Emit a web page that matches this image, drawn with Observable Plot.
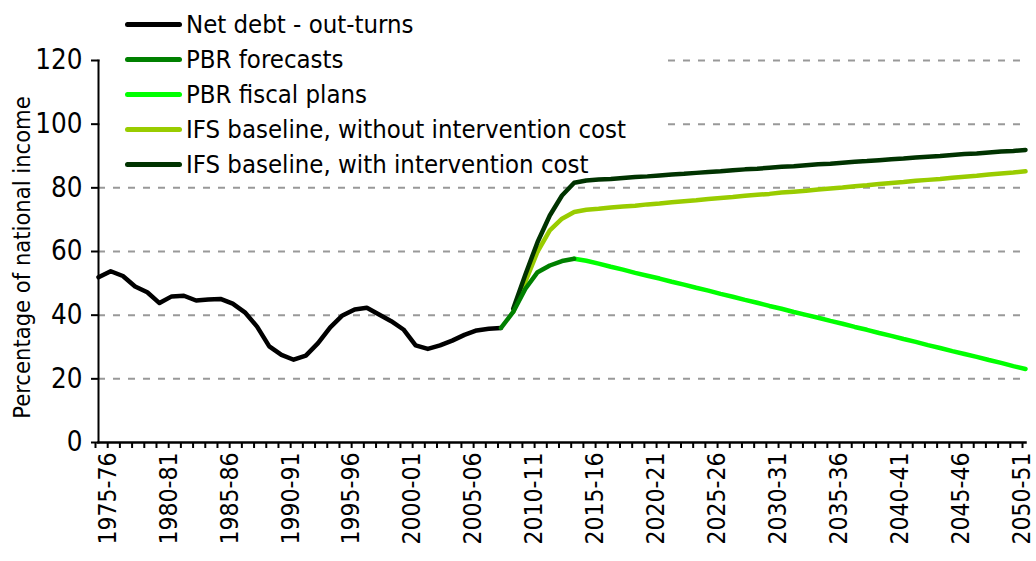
<!DOCTYPE html>
<html>
<head>
<meta charset="utf-8">
<script src="https://cdn.jsdelivr.net/npm/d3@7"></script>
<script src="https://cdn.jsdelivr.net/npm/@observablehq/plot@0.6"></script>
<style>
  html, body { margin: 0; padding: 0; background: #fff; }
  #wrap { position: relative; width: 1036px; height: 561px; font-family: "DejaVu Sans Condensed", sans-serif; }
  #legend { position: absolute; left: 100px; top: 0px; width: 564px; height: 172px; background: #fff; }
  .row { position: absolute; left: 0; height: 30px; }
  .sw { position: absolute; left: 25px; width: 57px; height: 5px; border-radius: 3px; }
  .lb { position: absolute; left: 86px; font-size: 25.5px; white-space: nowrap; color: #000; line-height: 30px; }
</style>
</head>
<body>
<div id="wrap"></div>
<script>
const years = ["1974-75","1975-76","1976-77","1977-78","1978-79","1979-80","1980-81","1981-82","1982-83","1983-84",
"1984-85","1985-86","1986-87","1987-88","1988-89","1989-90","1990-91","1991-92","1992-93","1993-94",
"1994-95","1995-96","1996-97","1997-98","1998-99","1999-00","2000-01","2001-02","2002-03","2003-04",
"2004-05","2005-06","2006-07","2007-08","2008-09","2009-10","2010-11","2011-12","2012-13","2013-14",
"2014-15","2015-16","2016-17","2017-18","2018-19","2019-20","2020-21","2021-22","2022-23","2023-24",
"2024-25","2025-26","2026-27","2027-28","2028-29","2029-30","2030-31","2031-32","2032-33","2033-34",
"2034-35","2035-36","2036-37","2037-38","2038-39","2039-40","2040-41","2041-42","2042-43","2043-44",
"2044-45","2045-46","2046-47","2047-48","2048-49","2049-50","2050-51"];

const tickLabels = ["1975-76","1980-81","1985-86","1990-91","1995-96","2000-01","2005-06","2010-11",
"2015-16","2020-21","2025-26","2030-31","2035-36","2040-41","2045-46","2050-51"];

// Net debt out-turns, 1974-75 to 2007-08
const netDebt = [51.9,53.8,52.3,49.0,47.2,43.8,45.9,46.1,44.6,44.9,45.1,43.6,40.9,36.4,30.2,27.5,26.0,27.3,
31.2,36.2,39.9,41.8,42.3,40.2,38.1,35.5,30.5,29.4,30.5,32.0,33.8,35.2,35.7,36.0];
// PBR forecasts, 2007-08 to 2013-14
const pbrForecasts = [36.0,41.0,48.3,53.5,55.6,57.0,57.7];
// PBR fiscal plans, 2013-14 to 2050-51
const pbrPlans = [57.7,57.1,56.2,55.2,54.3,53.3,52.4,51.5,50.5,49.6,48.6,47.7,46.7,45.8,44.8,43.9,42.9,42.0,
41.0,40.1,39.2,38.2,37.3,36.3,35.4,34.4,33.5,32.5,31.6,30.6,29.7,28.7,27.8,26.9,25.9,25.0,24.0,23.1];
// IFS baseline without intervention cost, 2008-09 to 2050-51
const ifsWithout = [41.0,50.5,60.0,66.6,70.3,72.4,73.1,73.4,73.8,74.1,74.4,74.8,75.1,75.5,75.8,76.1,76.5,76.8,
77.1,77.5,77.8,78.1,78.5,78.8,79.1,79.5,79.8,80.1,80.5,80.8,81.2,81.5,81.8,82.2,82.5,82.8,83.2,83.5,83.8,
84.2,84.5,84.8,85.2];
// IFS baseline with intervention cost, 2008-09 to 2050-51
const ifsWith = [42.0,52.8,63.0,71.3,77.6,81.6,82.3,82.6,82.8,83.1,83.4,83.6,83.9,84.2,84.4,84.7,85.0,85.2,
85.5,85.8,86.0,86.3,86.6,86.8,87.1,87.4,87.6,87.9,88.2,88.4,88.7,89.0,89.2,89.5,89.8,90.0,90.3,90.6,90.8,
91.1,91.4,91.6,91.9];

const series = [
  {name: "Net debt - out-turns", start: "1974-75", values: netDebt, color: "#000000"},
  {name: "PBR forecasts", start: "2007-08", values: pbrForecasts, color: "#008000"},
  {name: "PBR fiscal plans", start: "2013-14", values: pbrPlans, color: "#00ff00"},
  {name: "IFS baseline, without intervention cost", start: "2008-09", values: ifsWithout, color: "#99cc00"},
  {name: "IFS baseline, with intervention cost", start: "2008-09", values: ifsWith, color: "#003300"}
];
const yTicks = [0, 20, 40, 60, 80, 100, 120];

function rows(s) {
  const i0 = years.indexOf(s.start);
  return s.values.map((v, k) => ({year: years[i0 + k], value: v}));
}

const drawOrder = [0, 3, 4, 2, 1];
const lineMarks = drawOrder.map(i => Plot.line(rows(series[i]), {
  x: "year", y: "value", stroke: series[i].color, strokeWidth: 4.5,
  strokeLinejoin: "round", strokeLinecap: "round"
}));

const chart = Plot.plot({
  width: 1036,
  height: 561,
  marginLeft: 98,
  marginRight: 11,
  marginTop: 60,
  marginBottom: 119,
  style: {fontFamily: "DejaVu Sans Condensed, sans-serif", background: "#fff", color: "#000"},
  x: {type: "point", domain: years, padding: 0, round: false},
  y: {domain: [0, 120]},
  marks: [
    Plot.gridY(yTicks.filter(d => d > 0), {stroke: "#999999", strokeOpacity: 1, strokeWidth: 2, strokeDasharray: "7,8"}),
    ...lineMarks,
    Plot.frame({anchor: "left", stroke: "#000", strokeWidth: 2}),
    Plot.frame({anchor: "bottom", stroke: "#000", strokeWidth: 2.5}),
    Plot.axisY({ticks: yTicks, tickSize: 7, tickPadding: 9, fontSize: 27.5, label: null, strokeWidth: 2}),
    Plot.axisX({ticks: years, tickSize: 6, tickPadding: 4, tickRotate: -90, fontSize: 24.5, label: null,
      strokeWidth: 2, dx: -3, tickFormat: d => tickLabels.includes(d) ? d : ""}),
    Plot.text(["Percentage of national income"], {text: d => d, frameAnchor: "left", rotate: -90,
      dx: -76, dy: 6, fontSize: 23.5, textAnchor: "middle", lineAnchor: "middle", fill: "#000"})
  ]
});

const wrap = document.getElementById("wrap");
wrap.appendChild(chart);

const legend = document.createElement("div");
legend.id = "legend";
series.forEach((s, i) => {
  const row = document.createElement("div");
  row.className = "row";
  row.style.top = (24 + i * 35.1 - 15) + "px";
  const sw = document.createElement("div");
  sw.className = "sw";
  sw.style.background = s.color;
  sw.style.top = "12.5px";
  const lb = document.createElement("div");
  lb.className = "lb";
  lb.textContent = s.name;
  lb.style.top = "0px";
  row.appendChild(sw);
  row.appendChild(lb);
  legend.appendChild(row);
});
wrap.appendChild(legend);
</script>
</body>
</html>
